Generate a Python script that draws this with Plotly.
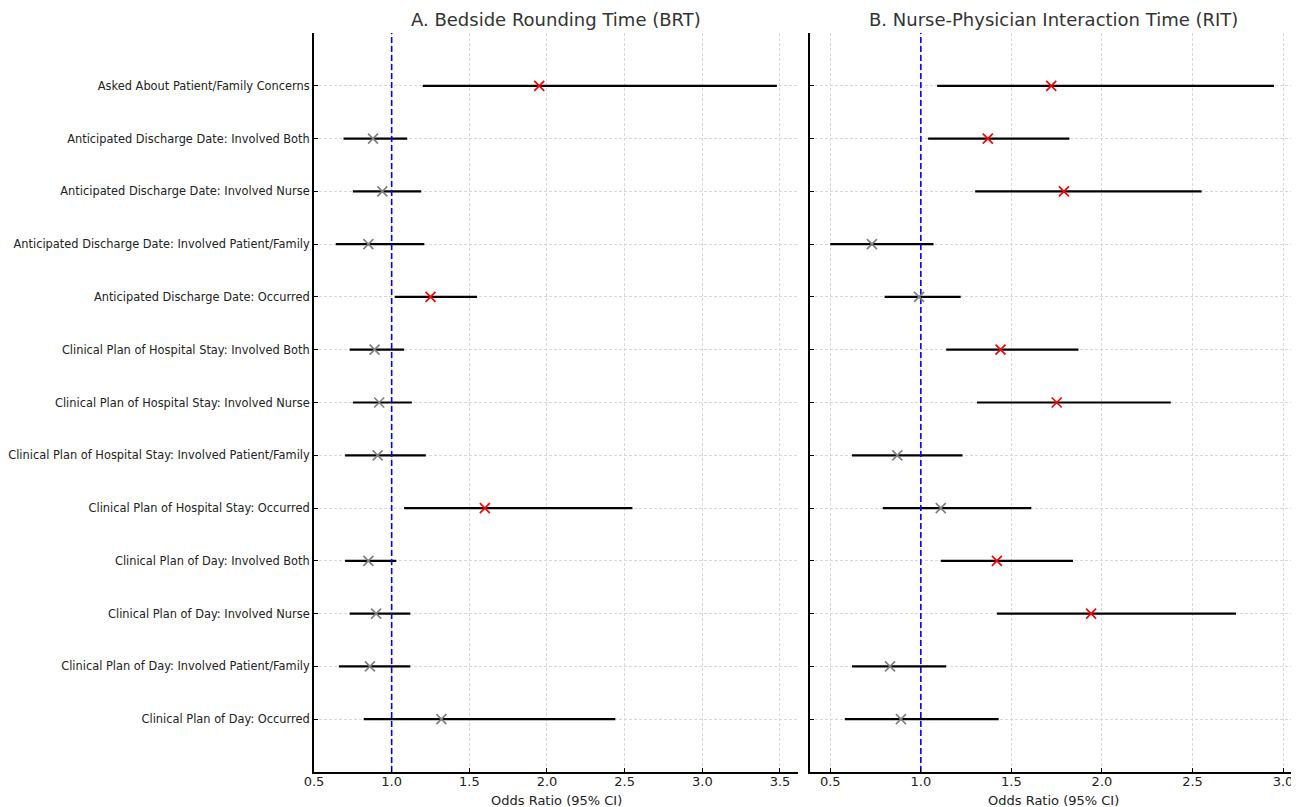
import plotly.graph_objects as go

categories = [
    "Asked About Patient/Family Concerns",
    "Anticipated Discharge Date: Involved Both",
    "Anticipated Discharge Date: Involved Nurse",
    "Anticipated Discharge Date: Involved Patient/Family",
    "Anticipated Discharge Date: Occurred",
    "Clinical Plan of Hospital Stay: Involved Both",
    "Clinical Plan of Hospital Stay: Involved Nurse",
    "Clinical Plan of Hospital Stay: Involved Patient/Family",
    "Clinical Plan of Hospital Stay: Occurred",
    "Clinical Plan of Day: Involved Both",
    "Clinical Plan of Day: Involved Nurse",
    "Clinical Plan of Day: Involved Patient/Family",
    "Clinical Plan of Day: Occurred",
]

brt_or = [1.95, 0.88, 0.94, 0.85, 1.25, 0.89, 0.92, 0.91, 1.60, 0.85, 0.90, 0.86, 1.32]
brt_lo = [1.20, 0.69, 0.75, 0.64, 1.02, 0.73, 0.75, 0.70, 1.08, 0.70, 0.73, 0.66, 0.82]
brt_hi = [3.48, 1.10, 1.19, 1.21, 1.55, 1.08, 1.13, 1.22, 2.55, 1.03, 1.12, 1.12, 2.44]

rit_or = [1.72, 1.37, 1.79, 0.73, 0.99, 1.44, 1.75, 0.87, 1.11, 1.42, 1.94, 0.83, 0.89]
rit_lo = [1.09, 1.04, 1.30, 0.50, 0.80, 1.14, 1.31, 0.62, 0.79, 1.11, 1.42, 0.62, 0.58]
rit_hi = [2.95, 1.82, 2.55, 1.07, 1.22, 1.87, 2.38, 1.23, 1.61, 1.84, 2.74, 1.14, 1.43]

titles = ["A. Bedside Rounding Time (BRT)", "B. Nurse-Physician Interaction Time (RIT)"]
x_title = "Odds Ratio (95% CI)"

n = len(categories)
ypos = [n - 1 - i for i in range(n)]

FONT = "DejaVu Sans"
fig = go.Figure()

panels = [(brt_or, brt_lo, brt_hi, "x", "y"), (rit_or, rit_lo, rit_hi, "x2", "y2")]
for orv, lo, hi, xa, ya in panels:
    colors = ["red" if (l > 1 or h < 1) else "gray" for l, h in zip(lo, hi)]
    lx, ly = [], []
    for l, h, y in zip(lo, hi, ypos):
        lx += [l, h, None]
        ly += [y, y, None]
    fig.add_trace(go.Scatter(x=lx, y=ly, mode="lines", line=dict(color="black", width=2.2),
                             xaxis=xa, yaxis=ya, showlegend=False, hoverinfo="skip"))
    fig.add_trace(go.Scatter(x=[1, 1], y=[-1, 13], mode="lines",
                             line=dict(color="blue", width=1.6, dash="6px,3px"),
                             xaxis=xa, yaxis=ya, showlegend=False, hoverinfo="skip"))
    fig.add_trace(go.Scatter(x=orv, y=ypos, mode="markers",
                             marker=dict(symbol="x-thin", size=10, color=colors,
                                         line=dict(color=colors, width=1.7)),
                             xaxis=xa, yaxis=ya, showlegend=False))

# The page body has an 8px offset; lay out in figure coordinates = screen px - 8
W, H = 1299, 807
OFF = 8
L, T = 314 - OFF, 33 - OFF
RIGHT_EDGE, BOTTOM_EDGE = 1297 - OFF, 772 - OFF
R, B = W - RIGHT_EDGE, H - BOTTOM_EDGE
PW = W - L - R
PH = H - T - B


def px_x(p):
    return (p - OFF - L) / PW


def px_y(p):
    return (BOTTOM_EDGE - (p - OFF)) / PH


axis_common = dict(
    showgrid=True, gridcolor="#d8d8d8", griddash="3px,2px", gridwidth=0.8,
    zeroline=False, showline=True, linecolor="black", linewidth=2,
    ticks="inside", ticklen=4, tickcolor="black", mirror=False, automargin=False,
    tickfont=dict(family=FONT, size=13, color="#222"),
)

fig.update_layout(
    width=W, height=H, autosize=False,
    margin=dict(l=L, r=R, t=T, b=B, pad=0),
    plot_bgcolor="white", paper_bgcolor="white",
    font=dict(family=FONT, color="#222"),
    xaxis=dict(domain=[px_x(314), px_x(798)], range=[0.5, 3.616], tickvals=[0.5, 1, 1.5, 2, 2.5, 3, 3.5],
               ticktext=["0.5", "1.0", "1.5", "2.0", "2.5", "3.0", "3.5"], anchor="y",
               ticklabelstandoff=-4, **axis_common),
    yaxis=dict(domain=[0, 1], range=[-1, 13], tickvals=ypos, ticktext=categories, anchor="x",
               **{**axis_common, "tickfont": dict(family=FONT, size=11.4, color="#222")}),
    xaxis2=dict(domain=[px_x(810), px_x(1297)], range=[0.388, 3.077], tickvals=[0.5, 1, 1.5, 2, 2.5, 3],
                ticktext=["0.5", "1.0", "1.5", "2.0", "2.5", "3.0"], anchor="y2",
                ticklabelstandoff=-4, **axis_common),
    yaxis2=dict(domain=[0, 1], range=[-1, 13], tickvals=ypos, showticklabels=False, anchor="x2",
                **axis_common),
    annotations=[
        dict(text=titles[0], x=px_x(556), y=px_y(20), xref="paper", yref="paper",
             showarrow=False, font=dict(family=FONT, size=18, color="#333"), xanchor="center", yanchor="middle"),
        dict(text=titles[1], x=px_x(1053), y=px_y(20), xref="paper", yref="paper",
             showarrow=False, font=dict(family=FONT, size=18, color="#333"), xanchor="center", yanchor="middle"),
        dict(text=x_title, x=px_x(556), y=px_y(800), xref="paper", yref="paper",
             showarrow=False, font=dict(family=FONT, size=13, color="#222"), xanchor="center", yanchor="middle"),
        dict(text=x_title, x=px_x(1053), y=px_y(800), xref="paper", yref="paper",
             showarrow=False, font=dict(family=FONT, size=13, color="#222"), xanchor="center", yanchor="middle"),
    ],
)

fig.write_html("out.html")
